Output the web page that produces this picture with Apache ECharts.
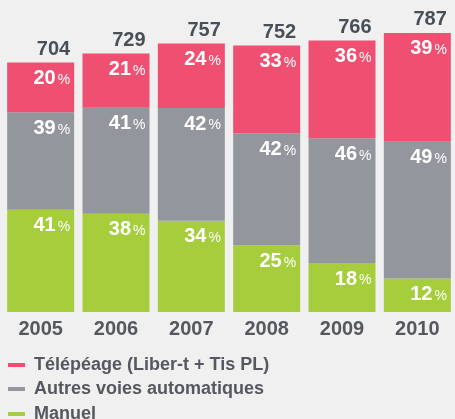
<!DOCTYPE html>
<html><head><meta charset="utf-8">
<script src="https://cdn.jsdelivr.net/npm/echarts@6/dist/echarts.min.js"></script>
<style>html,body{margin:0;padding:0;background:#f0f0f0;}#c{width:455px;height:419px;}</style>
</head><body><div id="c"></div>
<script>
var years = ['2005','2006','2007','2008','2009','2010'];
var totals = [704, 729, 757, 752, 766, 787];
var pctManuel = [41, 38, 34, 25, 18, 12];
var pctAutres = [39, 41, 42, 42, 46, 49];
var pctTelepeage = [20, 21, 24, 33, 36, 39];
var seriesNames = ['Télépéage (Liber-t + Tis PL)', 'Autres voies automatiques', 'Manuel'];
var colors = { tele: '#ef4f71', autres: '#94969e', manuel: '#a6cd3b' };

function seg(pcts) {
  return pcts.map(function (p, i) { return { value: totals[i] * p / 100, pct: p }; });
}
var font = '"Liberation Sans", Arial, sans-serif';
var pctLabel = {
  show: true,
  position: ['100%', 0],
  align: 'right',
  verticalAlign: 'top',
  offset: [-4, 6],
  fontFamily: font,
  formatter: function (p) { return '{n|' + p.data.pct + '}{s|%}'; },
  rich: {
    n: { color: '#fff', fontSize: 20, fontWeight: 'bold', fontFamily: font, padding: [0, 2, 0, 0] },
    s: { color: '#fff', fontSize: 14, fontFamily: font, padding: [3, 0, 0, 0] }
  }
};
var legendTops = [356, 380, 405];
var legends = seriesNames.map(function (n, i) {
  return {
    orient: 'vertical', left: 8, top: legendTops[i], padding: 0,
    data: [n], icon: 'rect', itemWidth: 17, itemHeight: 4, itemGap: 0,
    textStyle: { color: '#55585e', fontSize: 18, fontWeight: 'bold', fontFamily: font, padding: [0, 0, 0, 4] }
  };
});
var chart = echarts.init(document.getElementById('c'));
chart.setOption({
  backgroundColor: '#f0f0f0',
  animation: false,
  grid: { left: 3, top: 0, width: 458, height: 312 },
  xAxis: {
    type: 'category', data: years,
    axisLine: { show: false }, axisTick: { show: false },
    axisLabel: { margin: 7, color: '#55585e', fontSize: 20, fontWeight: 'bold', fontFamily: font }
  },
  yAxis: { type: 'value', min: 0, max: 880, show: false, splitLine: { show: false } },
  legend: legends,
  series: [
    { name: seriesNames[2], type: 'bar', stack: 'a', barWidth: 67, data: seg(pctManuel),
      itemStyle: { color: colors.manuel }, label: pctLabel },
    { name: seriesNames[1], type: 'bar', stack: 'a', barWidth: 67, data: seg(pctAutres),
      itemStyle: { color: colors.autres }, label: pctLabel },
    { name: seriesNames[0], type: 'bar', stack: 'a', barWidth: 67, data: seg(pctTelepeage),
      itemStyle: { color: colors.tele }, label: pctLabel },
    { name: 'total', type: 'bar', barWidth: 67, barGap: '-100%', data: totals,
      itemStyle: { color: 'rgba(0,0,0,0)' }, z: 1,
      label: { show: true, position: ['100%', 0], align: 'right', verticalAlign: 'bottom', offset: [-4, -3],
        color: '#474f57', fontSize: 20, fontWeight: 'bold', fontFamily: font } }
  ]
});
</script></body></html>
